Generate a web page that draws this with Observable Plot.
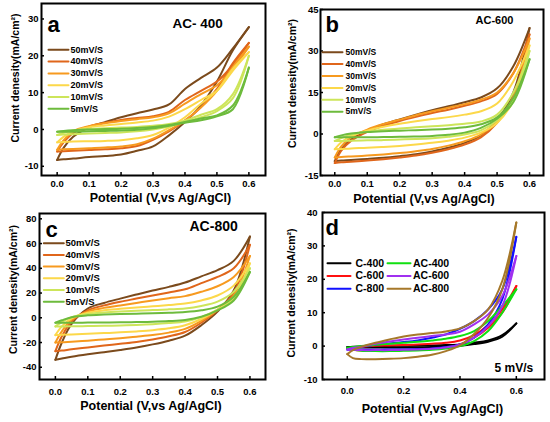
<!DOCTYPE html>
<html><head><meta charset="utf-8">
<script src="https://cdn.jsdelivr.net/npm/d3@7"></script>
<script src="https://cdn.jsdelivr.net/npm/@observablehq/plot@0.6"></script>
<style>
body{margin:0;background:#fff;}
#wrap{position:relative;width:550px;height:422px;overflow:hidden;background:#fff;}
.p{position:absolute;width:275px;height:211px;}
.p svg{overflow:visible !important;background:transparent !important;font-family:"Liberation Sans",Arial,sans-serif !important;font-weight:bold;}
.p svg text{font-family:"Liberation Sans",Arial,sans-serif !important;}
</style></head><body>
<div id="wrap">
<div class="p" id="pa" style="left:0;top:0"></div>
<div class="p" id="pb" style="left:275px;top:0"></div>
<div class="p" id="pc" style="left:0;top:211px"></div>
<div class="p" id="pd" style="left:275px;top:211px"></div>
</div>
<script>
// Potential grid (V vs Ag/AgCl)
const V = [0, 0.02, 0.05, 0.1, 0.15, 0.2, 0.25, 0.3, 0.35, 0.4, 0.45, 0.5, 0.55, 0.6];
const rates = ["50mV/S", "40mV/S", "30mV/S", "20mV/S", "10mV/S", "5mV/S"];
const rateColors = ["#7b4a1c", "#e0661b", "#f79a1f", "#fcd84a", "#cde55a", "#6dbb3c"];
const xTicksABC = [0, 0.1, 0.2, 0.3, 0.4, 0.5, 0.6];
const xTicksD = [0, 0.2, 0.4, 0.6];
const yTicksA = [-10, 0, 10, 20, 30];
const yTicksB = [-15, 0, 15, 30, 45];
const yTicksC = [-40, -20, 0, 20, 40, 60, 80];
const yTicksD = [-10, 0, 10, 20, 30, 40];

// Panel a: AC-400 (forward / reverse scan current densities)
const aUp = [
  [-8.3, -5, -2, 0.6, 2, 3.3, 4.4, 5.4, 6.8, 11, 14, 16.8, 22, 27.8],
  [-6, -3.5, -1, 0.8, 1.8, 2.6, 3.1, 3.6, 4.8, 8, 10.5, 13, 17.5, 23.5],
  [-5.5, -3, -0.5, 0.9, 1.7, 2.3, 2.8, 3.3, 4.4, 7, 9.6, 12, 16.5, 22.5],
  [-3.5, -2, -0.5, 0.6, 1.1, 1.5, 1.9, 2.4, 3.5, 5.5, 8, 10.5, 16, 21],
  [-1.5, -0.9, -0.3, 0.1, 0.3, 0.5, 0.7, 1, 1.5, 2.4, 4, 5.5, 9.6, 20],
  [-0.6, -0.4, -0.2, 0, 0.1, 0.2, 0.4, 0.7, 1.2, 2, 3, 3.8, 6.5, 16.8]
];
const aDown = [
  [-8.3, -8.1, -7.9, -7.5, -7.2, -6.8, -5.8, -4.6, -1.6, 2, 6.5, 13, 21.5, 27.8],
  [-6, -5.9, -5.8, -5.6, -5.4, -5.1, -4.5, -2.8, -0.5, 2.4, 6, 11, 18, 23.5],
  [-5.5, -5.4, -5.3, -5.1, -4.9, -4.6, -4, -2.5, -0.2, 2.5, 6, 10.5, 17, 22.5],
  [-3.5, -3.4, -3.3, -3.2, -3.1, -2.9, -2.4, -1.5, 0.5, 3.3, 7, 10.5, 16.5, 21],
  [-1.5, -1.4, -1.3, -1.1, -0.95, -0.8, -0.5, 0, 0.8, 2, 3.3, 5, 8.5, 20],
  [-0.6, -0.6, -0.6, -0.5, -0.4, -0.3, -0.1, 0.3, 1, 1.8, 2.5, 3.6, 5.5, 16.8]
];
// Panel b: AC-600
const bUp = [
  [-9.8, -5.5, -2, 1.2, 3.5, 5.3, 7, 8.6, 10, 11.5, 13.2, 16.5, 24.5, 38.3],
  [-10.5, -6, -2.5, 0.8, 3, 4.7, 6.2, 7.6, 8.8, 10.2, 11.8, 14.5, 22, 36],
  [-8.5, -4.5, -1.2, 1.6, 3.6, 5.2, 6.8, 8.2, 9.5, 10.8, 12.4, 15, 22, 34.5],
  [-5.5, -3, -0.8, 1.2, 2.6, 3.7, 4.6, 5.4, 6.1, 7, 8.2, 11, 19, 32],
  [-2.5, -1.5, -0.3, 0.8, 1.5, 2, 2.4, 2.8, 3.2, 3.7, 4.5, 7, 15, 30],
  [-1.2, -0.5, 0.2, 0.7, 1, 1.2, 1.4, 1.6, 1.9, 2.4, 3.5, 6, 13, 27]
];
const bDown = [
  [-9.8, -9.6, -9.4, -9, -8.6, -8, -7.3, -6.3, -5, -3.2, -0.5, 5, 15, 38.3],
  [-10.5, -10.2, -10, -9.6, -9.1, -8.5, -7.8, -6.8, -5.5, -3.8, -1.2, 4, 13.5, 36],
  [-8.5, -8.3, -8.1, -7.8, -7.4, -6.9, -6.2, -5.4, -4.2, -2.6, -0.2, 4.5, 13, 34.5],
  [-5.5, -5.4, -5.2, -5, -4.7, -4.3, -3.8, -3.2, -2.4, -1.3, 0.5, 4, 12, 32],
  [-2.5, -2.5, -2.4, -2.3, -2.2, -2, -1.8, -1.5, -1, -0.2, 1.3, 5, 12, 30],
  [-1.2, -1.2, -1.2, -1.2, -1.1, -1, -0.9, -0.7, -0.3, 0.5, 2.2, 5.5, 11.5, 27]
];
// Panel c: AC-800
const cUp = [
  [-34, -20, -5, 7.5, 12, 15.5, 18.8, 22, 25, 28.5, 33.5, 38.5, 46, 65.7],
  [-27, -15, -3, 6, 10, 13, 15.5, 18, 20.5, 23, 28, 33, 40, 59],
  [-20, -11, -1.5, 5, 8, 10, 12, 14, 15.8, 17.5, 21, 25.5, 33, 50],
  [-14, -7, -0.5, 4, 6, 7.2, 8.3, 9.3, 10.3, 11.5, 14, 18, 26, 44],
  [-7, -3.5, 0.5, 3, 4.2, 5, 5.6, 6.2, 6.8, 7.5, 9.5, 13, 21, 40],
  [-4, -2, 0.5, 2, 2.6, 3, 3.3, 3.6, 4, 4.6, 6, 9, 17, 37]
];
const cDown = [
  [-34, -33, -31.5, -29.5, -27.8, -26, -24, -21.5, -18.5, -14.5, -6, 5, 22, 65.7],
  [-27, -26.5, -25.5, -24, -22.5, -21, -19.5, -17.5, -15, -11.5, -4, 6, 20, 59],
  [-20, -19.8, -19.3, -18.5, -17.5, -16.5, -15.3, -14, -12, -9, -2.5, 6.5, 18, 50],
  [-14, -13.8, -13.5, -13, -12.4, -11.8, -11, -10, -8.5, -6, -1, 6.5, 16, 44],
  [-7, -7, -6.9, -6.7, -6.5, -6.2, -5.8, -5.2, -4.3, -3, 0.5, 6.5, 15, 40],
  [-4, -4, -4, -3.9, -3.8, -3.7, -3.5, -3.2, -2.7, -1.8, 0.8, 6, 14, 37]
];
// Panel d: all samples at 5 mV/s
const samples = ["C-400", "C-600", "C-800", "AC-400", "AC-600", "AC-800"];
const sampleColors = ["#000000", "#ff1010", "#1010ff", "#10e010", "#a030f0", "#a6782a"];
const dUp = [
  [-0.3, -0.2, -0.1, 0, 0.05, 0.1, 0.15, 0.2, 0.3, 0.5, 1, 1.7, 3.3, 6.8],
  [-0.8, -0.5, -0.2, 0.1, 0.2, 0.3, 0.5, 0.7, 1, 1.7, 3.3, 6.3, 11, 18],
  [-1, -0.6, -0.2, 0.4, 0.8, 1.2, 1.7, 2.5, 3.5, 5.2, 7.5, 11, 17, 32.7],
  [-0.5, -0.3, 0, 0.4, 0.7, 1, 1.3, 1.7, 2.2, 3, 4.5, 7.5, 12, 17],
  [-1, -0.6, -0.2, 0.7, 1.4, 2, 2.5, 3, 3.5, 4.3, 6.5, 9.5, 15, 27],
  [-2.4, -1.2, -0.2, 1, 2, 2.9, 3.5, 3.9, 4.4, 5.3, 7.5, 11, 19.5, 37]
];
const dDown = [
  [-0.3, -0.35, -0.4, -0.4, -0.4, -0.4, -0.35, -0.3, -0.2, 0.1, 0.6, 1.3, 2.8, 6.8],
  [-0.8, -1.1, -1.3, -1.3, -1.3, -1.2, -1.1, -0.9, -0.5, 0.5, 2.5, 5.5, 10, 18],
  [-1, -1.05, -1.1, -1.1, -1.05, -1, -0.9, -0.7, -0.3, 0.5, 2.5, 6.5, 14, 32.7],
  [-0.5, -1, -1.4, -1.5, -1.5, -1.4, -1.3, -1.1, -0.7, 0, 1.5, 4.5, 10, 17],
  [-1, -1.1, -1.2, -1.2, -1.2, -1.1, -1, -0.8, -0.4, 0.4, 2.5, 6, 12, 27],
  [-2.4, -3.6, -3.9, -3.9, -3.8, -3.6, -3.2, -2.6, -1.5, 0.2, 3.6, 8.5, 17, 37]
];

const yTitle = "Current denesity(mA/cm\u00B2)";
const xTitle = "Potential (V,vs Ag/AgCl)";
const FF = "Liberation Sans, Arial, sans-serif";

function loops(names, up, down) {
  const rows = [];
  names.forEach((n, s) => {
    V.forEach((v, i) => rows.push({name: n, b: "u", v, j: up[s][i]}));
    V.forEach((v, i) => rows.push({name: n, b: "d", v, j: down[s][i]}));
  });
  return rows;
}
const seg = {draw(ctx, l) { ctx.moveTo(0, 0); ctx.lineTo(0, -l); }};

function panel(o) {
  const W = 275, H = 211;
  const [mT, mR, mB, mL] = o.m;
  const iw = W - mL - mR, ih = H - mT - mB;
  const fmtY = d => String(d);
  const marks = [
    Plot.line(loops(o.names, o.up, o.down), {x: "v", y: "j", z: d => d.name + d.b, stroke: "name", strokeWidth: 2, curve: "catmull-rom"}),
    Plot.tickX(o.xTicks, {x: d => d, stroke: "black", strokeWidth: 1.5, insetTop: ih - 3}),
    Plot.tickY(o.yTicks, {y: d => d, stroke: "black", strokeWidth: 1.5, insetRight: iw - 3}),
    Plot.frame({stroke: "black", strokeWidth: 2}),
    Plot.axisX({ticks: o.xTicks, tickSize: 0, tickPadding: o.xPad, tickFormat: d3.format(".1f"), fontSize: 9.5, fontFamily: FF, label: null}),
    Plot.axisY({ticks: o.yTicks, tickSize: 0, tickPadding: o.yPad, tickFormat: fmtY, fontSize: 9.5, fontFamily: FF, label: null}),
    Plot.text([xTitle], {text: d => d, frameAnchor: "bottom", textAnchor: "middle", dx: o.xt[0], dy: o.xt[1], fontSize: 12.5, fontFamily: FF, lineAnchor: "middle"}),
    Plot.text([yTitle], {text: d => d, frameAnchor: "left", textAnchor: "middle", dx: o.yt[0], dy: o.yt[1], rotate: -90, fontSize: 10.5, fontFamily: FF, lineAnchor: "middle"}),
    Plot.text([o.letter], {text: d => d, frameAnchor: "top-left", textAnchor: "start", dx: o.lp[0], dy: o.lp[1], fontSize: 22, fontFamily: FF, lineAnchor: "middle"}),
    Plot.text([o.title], {text: d => d, frameAnchor: "top-left", textAnchor: "start", dx: o.tp[0], dy: o.tp[1], fontSize: o.tp[2], fontFamily: FF, lineAnchor: "middle"})
  ];
  o.legend.forEach(L => {
    L.idx.forEach((k, r) => {
      marks.push(Plot.vector([o.names[k]], {frameAnchor: "top-left", dx: L.lx, dy: L.y0 + r * L.gap, length: L.len, rotate: 90, anchor: "start", stroke: o.colors[k], strokeWidth: 2, shape: seg}));
      marks.push(Plot.text([o.names[k]], {text: d => d, frameAnchor: "top-left", textAnchor: "start", dx: L.tx, dy: L.y0 + r * L.gap, fontSize: L.fs, fontFamily: FF, lineAnchor: "middle"}));
    });
  });
  const svg = Plot.plot({
    width: W, height: H, marginTop: mT, marginRight: mR, marginBottom: mB, marginLeft: mL,
    style: {fontFamily: FF, fontWeight: "bold", background: "transparent", overflow: "visible"},
    x: {domain: o.xDomain},
    y: {domain: o.yDomain},
    color: {domain: o.names, range: o.colors},
    marks
  });
  document.getElementById(o.id).appendChild(svg);
}

panel({id: "pa", names: rates, colors: rateColors, up: aUp, down: aDown,
  m: [3, 10, 36, 41], xDomain: [-0.049, 0.652], yDomain: [-12.5, 34.2],
  xTicks: xTicksABC, yTicks: yTicksA, xPad: 5, yPad: 3,
  xt: [7, 22.7], yt: [-26, -11.5], letter: "a", lp: [6, 21.4], title: "AC- 400", tp: [131, 20.4, 13.5],
  legend: [{idx: [0,1,2,3,4,5], lx: 7, len: 20, tx: 29, y0: 46.3, gap: 11.8, fs: 9}]});

panel({id: "pb", names: rates, colors: rateColors, up: bUp, down: bDown,
  m: [9, 7, 36, 45], xDomain: [-0.044, 0.643], yDomain: [-15, 45],
  xTicks: xTicksABC, yTicks: yTicksB, xPad: 5, yPad: 2,
  xt: [-8, 23], yt: [-28, -9], letter: "b", lp: [5, 15.4], title: "AC-600", tp: [155, 10.5, 11],
  legend: [{idx: [0,1,2,3,4,5], lx: 2, len: 20, tx: 25, y0: 42.7, gap: 11.9, fs: 8.5}]});

panel({id: "pc", names: rates, colors: rateColors, up: cUp, down: cDown,
  m: [2, 10, 43, 39], xDomain: [-0.049, 0.648], yDomain: [-49.9, 84.3],
  xTicks: xTicksABC, yTicks: yTicksC, xPad: 8.7, yPad: 3,
  xt: [-1.5, 26.3], yt: [-26, -7], letter: "c", lp: [6, 16], title: "AC-800", tp: [150, 13.5, 14],
  legend: [{idx: [0,1,2,3,4,5], lx: 4.3, len: 20, tx: 26, y0: 29.7, gap: 11.7, fs: 9.5}]});

panel({id: "pd", names: samples, colors: sampleColors, up: dUp, down: dDown,
  m: [1, 6, 43, 47], xDomain: [-0.088, 0.7], yDomain: [-10, 40],
  xTicks: xTicksD, yTicks: yTicksD, xPad: 7.7, yPad: 5,
  xt: [-1, 29.7], yt: [-31, -3], letter: "d", lp: [3, 15.3], title: "5 mV/s", tp: [172, 155.2, 12],
  legend: [{idx: [0,1,2], lx: 5, len: 23, tx: 33, y0: 50.7, gap: 12.8, fs: 10.5},
           {idx: [3,4,5], lx: 65, len: 23, tx: 90.5, y0: 50.7, gap: 12.8, fs: 10.5}]});
</script>
</body></html>
